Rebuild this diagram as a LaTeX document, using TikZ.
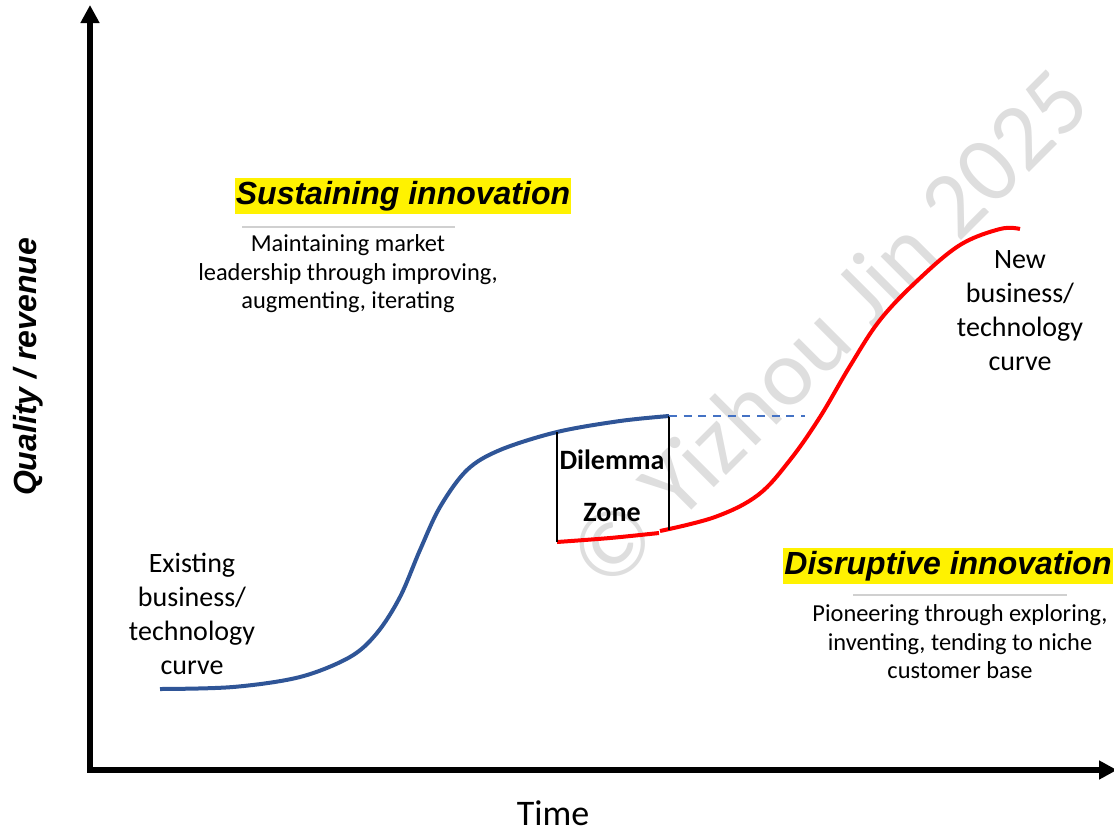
\documentclass[tikz,border=0pt]{standalone}
\usepackage{fontspec}
\setmainfont{Carlito}
\newfontfamily\headfont{Liberation Sans}
\usetikzlibrary{arrows.meta}
\definecolor{oldblue}{HTML}{2F5597}
\definecolor{dashblue}{HTML}{4472C4}
\definecolor{newred}{HTML}{FF0000}
\definecolor{rulegray}{HTML}{D0D0D0}
\definecolor{marklight}{HTML}{DEDEDE}
\tikzset{
  axis/.style={line width=4pt, line join=miter, {Triangle[width=13.5pt,length=13.5pt]}-{Triangle[width=13.5pt,length=13.5pt]}},
  oldcurve/.style={oldblue, line width=3pt},
  newcurve/.style={newred, line width=3pt},
  zoneedge/.style={black, line width=1.4pt},
  levelline/.style={dashblue, line width=1.4pt, dash pattern=on 6pt off 5pt},
  headline/.style={fill=yellow, inner xsep=1pt, inner ysep=0pt, minimum height=27.5pt,
    font=\headfont\bfseries\itshape\fontsize{24}{28}\selectfont},
  bodytext/.style={align=center, inner sep=0pt, font=\fontsize{18.3}{21.4}\selectfont},
  curvetext/.style={align=center, inner sep=0pt, font=\fontsize{21}{25.5}\selectfont},
  underrule/.style={rulegray, line width=0.8pt}
}
\begin{document}
\begin{tikzpicture}[x=0.75pt, y=-0.75pt]
\useasboundingbox (0,0) rectangle (1114,829);

% watermark
\node[rotate=45, text=marklight, font=\fontsize{71}{80}\selectfont] (mark) at (828,328) {© Yizhou Jin 2025};

% axes
\coordinate (ytip) at (90,5);
\coordinate (origin) at (90,770);
\coordinate (xtip) at (1117,770);
\draw[axis] (ytip) -- (origin) -- (xtip);

% existing business curve
\draw[oldcurve] plot[smooth, tension=0.55] coordinates {
  (160,689) (233,687) (300,677) (350,657) (377,633) (400,597) (420,550)
  (440,507) (467,470) (500,450) (557,432) (620,421) (669,416)};

% new business curve
\draw[newcurve] plot[smooth, tension=0.5] coordinates {(557,542) (610,538) (659,533)};
\draw[newcurve] plot[smooth, tension=0.6] coordinates {
  (660,531) (715,517) (758,495) (790,460) (820,417) (850,366) (880,320)
  (918,280) (960,245) (1000,229) (1020,229)};

% dilemma zone edges and level line
\coordinate (zlt) at (557,432);
\coordinate (zlb) at (557,542);
\coordinate (zrt) at (669,416);
\coordinate (zrb) at (669,530);
\coordinate (lvl) at (805,416);
\draw[zoneedge] (zlt) -- (zlb);
\draw[zoneedge] (zrt) -- (zrb);
\draw[levelline] (zrt) -- (lvl);
\node[align=center, inner sep=0pt, font=\bfseries\fontsize{21}{39}\selectfont] (zone) at (612,486) {Dilemma\\Zone};

% headings
\node[headline] (sust) at (403,196) {Sustaining innovation};
\node[headline] (disr) at (948,566) {Disruptive innovation};
\coordinate (sr1) at (242,227); \coordinate (sr2) at (455,227);
\coordinate (dr1) at (853,595); \coordinate (dr2) at (1067,595);
\draw[underrule] (sr1) -- (sr2);
\draw[underrule] (dr1) -- (dr2);

\node[bodytext] (sustxt) at (348,274) {Maintaining market\\leadership through improving,\\augmenting, iterating};
\node[bodytext] (disrtxt) at (960,642) {Pioneering through exploring,\\inventing, tending to niche\\customer base};

\node[curvetext] (oldlbl) at (192,614) {Existing\\business/\\technology\\curve};
\node[curvetext] (newlbl) at (1020,311) {New\\business/\\technology\\curve};

% axis titles
\node[font=\fontsize{27}{32}\selectfont, inner sep=0pt] (time) at (553,813) {Time};
\node[rotate=90, inner sep=0pt, font=\headfont\bfseries\itshape\fontsize{24}{28}\selectfont] (qual) at (28,367) {Quality / revenue};
\end{tikzpicture}
\end{document}
